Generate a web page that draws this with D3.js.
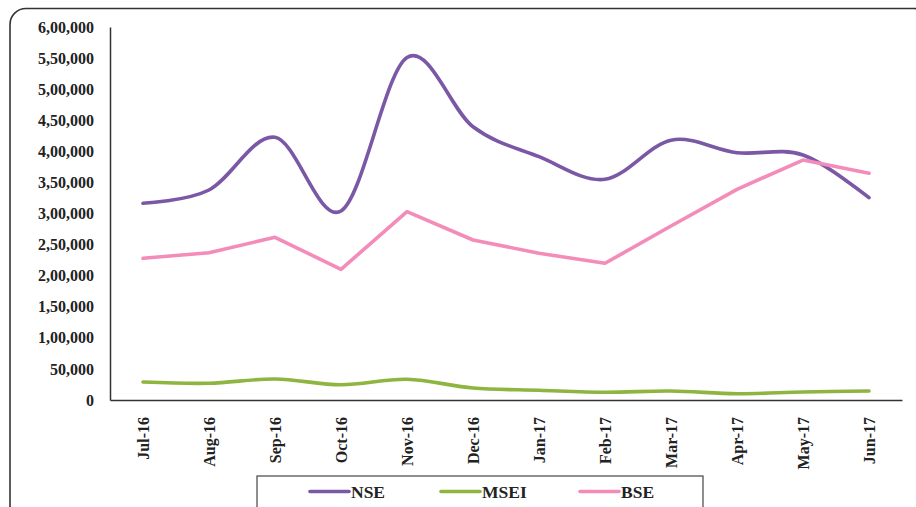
<!DOCTYPE html>
<html>
<head>
<meta charset="utf-8">
<script src="https://cdn.jsdelivr.net/npm/d3@7"></script>
<style>
html,body{margin:0;padding:0;background:#fff;}
svg{display:block;}
</style>
</head>
<body>
<svg id="chart" width="916" height="507"></svg>
<script>
const months = ["Jul-16","Aug-16","Sep-16","Oct-16","Nov-16","Dec-16","Jan-17","Feb-17","Mar-17","Apr-17","May-17","Jun-17"];
const nse  = [316400,337800,422500,304000,551000,439600,391400,355000,418000,397800,394100,325400];
const msei = [29000,26900,33800,24600,33300,19300,15600,12400,14500,10100,12900,14500];
const bse  = [227900,236900,261700,210200,302900,257400,236000,219900,279900,338900,386000,364700];
const yTicks = [0,50000,100000,150000,200000,250000,300000,350000,400000,450000,500000,550000,600000];
const yTickLabels = ["0","50,000","1,00,000","1,50,000","2,00,000","2,50,000","3,00,000","3,50,000","4,00,000","4,50,000","5,00,000","5,50,000","6,00,000"];
const seriesNames = ["NSE","MSEI","BSE"];
const seriesColors = ["#7b58a6","#8db53f","#f48cba"];
const seriesSmooth = [true,true,false];

(function(){
const svg = d3.select("#chart");
const font = "'Liberation Serif','Times New Roman',serif";

// outer rounded border
svg.append("rect").attr("x",10).attr("y",8.5).attr("width",920).attr("height",520)
  .attr("rx",16).attr("ry",16).attr("fill","none").attr("stroke","#333").attr("stroke-width",1.6);

const pLeft = 110, pRight = 902, pTop = 27, pBottom = 400;
const x = d3.scaleBand().domain(months).range([pLeft,pRight]);
const y = d3.scaleLinear().domain([0,600000]).range([pBottom,pTop]);

// y axis
const yAxis = d3.axisLeft(y).tickValues(yTicks).tickSize(0).tickPadding(16)
  .tickFormat((d,i)=>yTickLabels[i]);
const gy = svg.append("g").attr("transform",`translate(${pLeft},0)`).call(yAxis);
gy.select(".domain").attr("stroke","#333").attr("stroke-width",1.5);
gy.selectAll("text").attr("font-family",font).attr("font-weight","bold")
  .attr("font-size",16).attr("fill","#222");

// x axis
const xAxis = d3.axisBottom(x).tickSize(0).tickPadding(0);
const gx = svg.append("g").attr("transform",`translate(0,${pBottom})`).call(xAxis);
gx.select(".domain").attr("stroke","#333").attr("stroke-width",1.5);
gx.selectAll("text").attr("font-family",font).attr("font-weight","bold")
  .attr("font-size",16).attr("fill","#222")
  .attr("text-anchor","end").attr("dy","0.35em")
  .attr("transform","translate(0,17) rotate(-90)").attr("x",0).attr("y",0);

// lines
const data = [nse,msei,bse];
data.forEach((vals,i)=>{
  const line = d3.line()
    .x((d,j)=>x(months[j]) + x.bandwidth()/2)
    .y(d=>y(d))
    .curve(seriesSmooth[i] ? d3.curveCardinal.tension(0) : d3.curveLinear);
  svg.append("path").datum(vals).attr("d",line)
    .attr("fill","none").attr("stroke",seriesColors[i]).attr("stroke-width",3.6)
    .attr("stroke-linejoin","round").attr("stroke-linecap","round");
});

// legend
svg.append("rect").attr("x",257).attr("y",476).attr("width",446).attr("height",40)
  .attr("fill","#fff").attr("stroke","#444").attr("stroke-width",1.2);
const legX = [310,441,580];
seriesNames.forEach((n,i)=>{
  svg.append("line").attr("x1",legX[i]).attr("x2",legX[i]+39).attr("y1",491.5).attr("y2",491.5)
    .attr("stroke",seriesColors[i]).attr("stroke-width",3.6).attr("stroke-linecap","round");
  svg.append("text").attr("x",legX[i]+41).attr("y",491.5).attr("dy","0.35em")
    .attr("font-family",font).attr("font-weight","bold").attr("font-size",17.5)
    .attr("fill","#222").text(n);
});
})();
</script>
</body>
</html>
